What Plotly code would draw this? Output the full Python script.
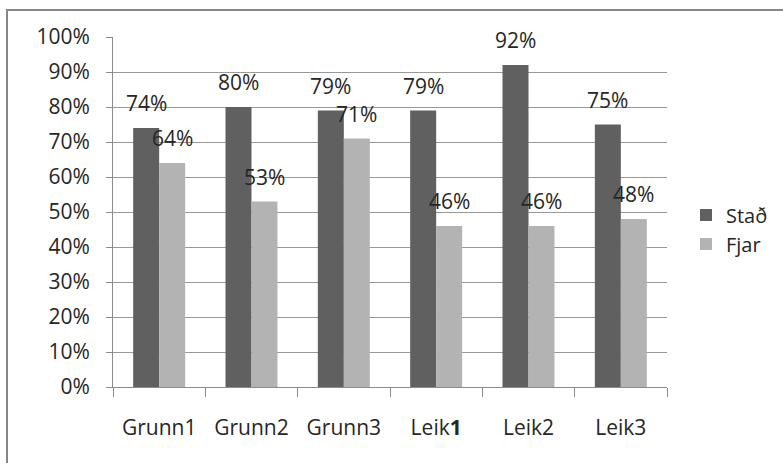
import plotly.graph_objects as go

categories = ["Grunn1", "Grunn2", "Grunn3", "Leik<b>1</b>", "Leik2", "Leik3"]
stad_values = [0.74, 0.80, 0.79, 0.79, 0.92, 0.75]
fjar_values = [0.64, 0.53, 0.71, 0.46, 0.46, 0.48]
series_names = ["Stað", "Fjar"]
y_ticks = [i / 10 for i in range(11)]

DARK = "#606060"
LIGHT = "#b3b3b3"
FONT = "Open Sans, Liberation Sans, Arial, sans-serif"
TXT = "#262626"

fig = go.Figure()
fig.add_trace(go.Bar(x=categories, y=stad_values, name=series_names[0],
                     marker=dict(color=DARK, line=dict(width=0))))
fig.add_trace(go.Bar(x=categories, y=fjar_values, name=series_names[1],
                     marker=dict(color=LIGHT, line=dict(width=0))))

# data labels above bars
for vals, shift in ((stad_values, -13), (fjar_values, 13)):
    for c, v in zip(categories, vals):
        fig.add_annotation(x=c, y=v, xref="x", yref="y", text=f"{round(v*100)}%",
                           showarrow=False, xshift=shift, yshift=25,
                           yanchor="middle", xanchor="center",
                           font=dict(family=FONT, size=21, color=TXT))

# outer chart border (top and left visible)
L, R, T, B = 113, 667, 37, 387
W, H = R - L, B - T
fig.add_shape(type="rect", xref="paper", yref="paper",
              x0=(7 - L) / W, x1=2.0,
              y0=-1.0, y1=1 + (T - 10) / H,
              line=dict(color="#868686", width=2), fillcolor="rgba(0,0,0,0)", layer="below")

fig.update_layout(
    width=783, height=463,
    margin=dict(l=L, r=783 - R, t=T, b=463 - B, pad=0, autoexpand=False),
    paper_bgcolor="white", plot_bgcolor="white",
    barmode="group", bargap=0.437, bargroupgap=0,
    font=dict(family=FONT, size=21, color=TXT),
    showlegend=True,
    legend=dict(xref="container", x=686 / 783, y=0.45, xanchor="left", yanchor="middle",
                font=dict(family=FONT, size=20, color=TXT),
                bgcolor="rgba(0,0,0,0)", borderwidth=0, tracegroupgap=6,
                itemwidth=30),
    xaxis=dict(showgrid=False, showline=True, linecolor="#8c8c8c", linewidth=1,
               ticks="outside", tickson="boundaries", ticklen=9, tickcolor="#8c8c8c",
               ticklabelstandoff=22, tickfont=dict(family=FONT, size=21, color=TXT),
               fixedrange=True),
    yaxis=dict(range=[0, 1], tickvals=y_ticks, tickformat=".0%",
               showgrid=True, gridcolor="#999999", gridwidth=1,
               showline=True, linecolor="#8c8c8c", linewidth=1,
               ticks="outside", ticklen=6, tickcolor="#8c8c8c",
               ticklabelstandoff=12, zeroline=False,
               tickfont=dict(family=FONT, size=21, color=TXT), fixedrange=True),
)

fig.write_html("out.html", config={"displayModeBar": False},
               post_script="document.body.style.margin='0';")
